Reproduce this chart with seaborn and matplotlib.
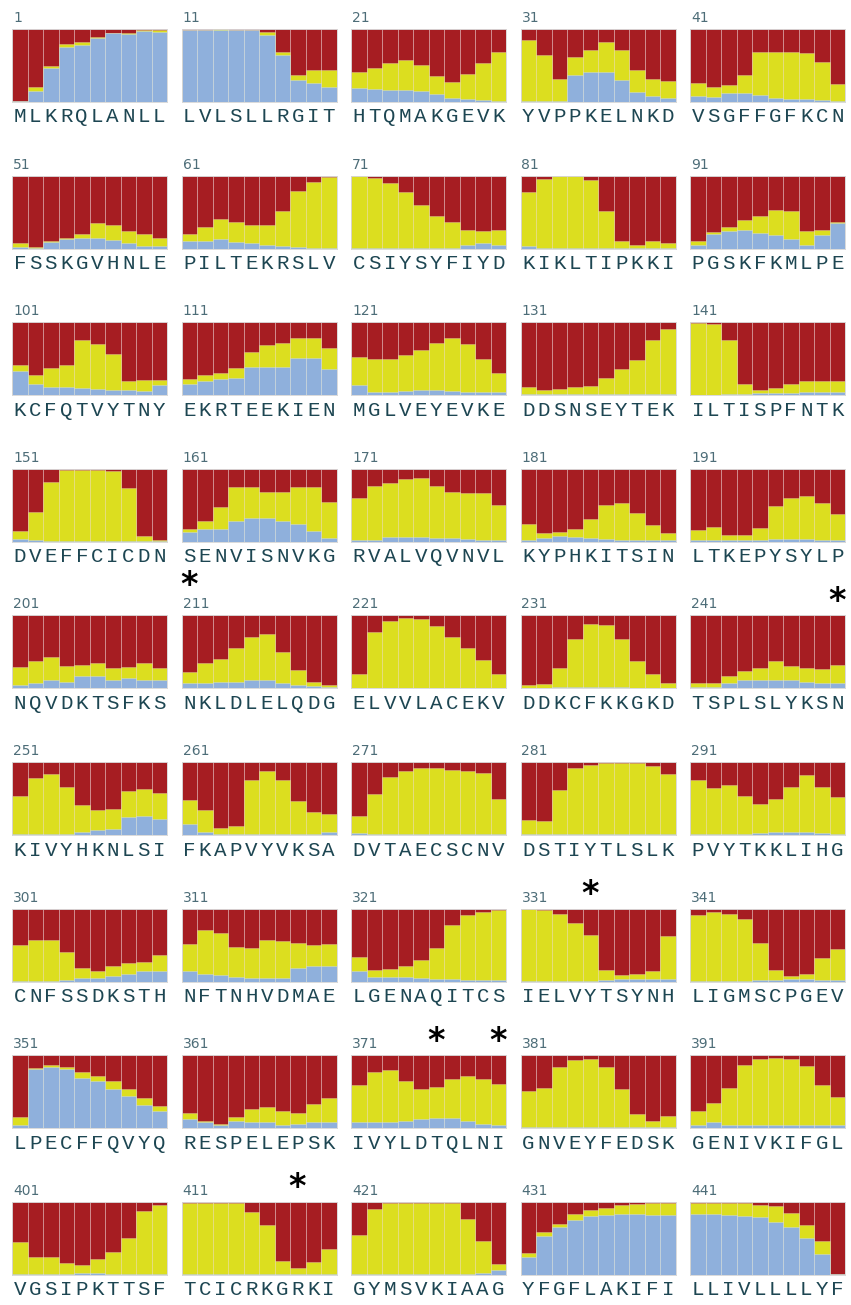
import numpy as np
import pandas as pd
import seaborn as sns
from matplotlib import pyplot as plt

# Sequence, one block of 10 per panel.
sequence = (
    "MLKRQLANLL" "LVLSLLRGIT" "HTQMAKGEVK" "YVPPKELNKD" "VSGFFGFKCN"
    "FSSKGVHNLE" "PILTEKRSLV" "CSIYSYFIYD" "KIKLTIPKKI" "PGSKFKMLPE"
    "KCFQTVYTNY" "EKRTEEKIEN" "MGLVEYEVKE" "DDSNSEYTEK" "ILTISPFNTK"
    "DVEFFCICDN" "SENVISNVKG" "RVALVQVNVL" "KYPHKITSIN" "LTKEPYSYLP"
    "NQVDKTSFKS" "NKLDLELQDG" "ELVVLACEKV" "DDKCFKKGKD" "TSPLSLYKSN"
    "KIVYHKNLSI" "FKAPVYVKSA" "DVTAECSCNV" "DSTIYTLSLK" "PVYTKKLIHG"
    "CNFSSDKSTH" "NFTNHVDMAE" "LGENAQITCS" "IELVYTSYNH" "LIGMSCPGEV"
    "LPECFFQVYQ" "RESPELEPSK" "IVYLDTQLNI" "GNVEYFEDSK" "GENIVKIFGL"
    "VGSIPKTTSF" "TCICRKGRKI" "GYMSVKIAAG" "YFGFLAKIFI" "LLIVLLLLYF"
)

# Height of the blue part of each bar.
blue = [
    0.02, 0.15, 0.46, 0.76, 0.78, 0.87, 0.94, 0.93, 0.97, 0.96,
    0.98, 0.98, 0.98, 0.98, 0.98, 0.92, 0.64, 0.30, 0.26, 0.20,
    0.19, 0.18, 0.17, 0.17, 0.15, 0.11, 0.05, 0.04, 0.03, 0.02,
    0.01, 0.01, 0.01, 0.37, 0.41, 0.41, 0.30, 0.14, 0.08, 0.06,
    0.08, 0.07, 0.12, 0.12, 0.09, 0.05, 0.04, 0.04, 0.03, 0.02,
    0.02, 0.01, 0.09, 0.13, 0.14, 0.15, 0.12, 0.07, 0.04, 0.04,
    0.10, 0.11, 0.13, 0.09, 0.07, 0.05, 0.04, 0.02, 0.01, 0.01,
    0.01, 0.01, 0.01, 0.01, 0.01, 0.01, 0.01, 0.05, 0.07, 0.05,
    0.04, 0.01, 0.01, 0.01, 0.01, 0.01, 0.01, 0.01, 0.01, 0.01,
    0.05, 0.20, 0.24, 0.26, 0.22, 0.18, 0.13, 0.05, 0.18, 0.35,
    0.33, 0.15, 0.11, 0.11, 0.10, 0.08, 0.07, 0.07, 0.06, 0.14,
    0.15, 0.20, 0.22, 0.24, 0.38, 0.39, 0.39, 0.51, 0.51, 0.36,
    0.14, 0.05, 0.05, 0.06, 0.07, 0.07, 0.06, 0.05, 0.04, 0.04,
    0.02, 0.02, 0.02, 0.02, 0.02, 0.02, 0.02, 0.02, 0.02, 0.02,
    0.00, 0.00, 0.01, 0.02, 0.03, 0.03, 0.03, 0.05, 0.05, 0.05,
    0.04, 0.02, 0.01, 0.01, 0.01, 0.01, 0.01, 0.01, 0.01, 0.01,
    0.14, 0.18, 0.18, 0.29, 0.32, 0.32, 0.29, 0.25, 0.15, 0.05,
    0.02, 0.02, 0.06, 0.06, 0.06, 0.05, 0.05, 0.04, 0.03, 0.03,
    0.02, 0.05, 0.08, 0.07, 0.05, 0.04, 0.03, 0.03, 0.02, 0.02,
    0.02, 0.02, 0.02, 0.02, 0.03, 0.04, 0.04, 0.04, 0.03, 0.02,
    0.05, 0.08, 0.11, 0.09, 0.17, 0.17, 0.12, 0.14, 0.12, 0.11,
    0.08, 0.08, 0.09, 0.09, 0.12, 0.11, 0.07, 0.05, 0.03, 0.02,
    0.01, 0.01, 0.01, 0.01, 0.01, 0.01, 0.01, 0.01, 0.01, 0.01,
    0.01, 0.01, 0.02, 0.02, 0.02, 0.02, 0.02, 0.01, 0.01, 0.01,
    0.02, 0.02, 0.08, 0.11, 0.12, 0.12, 0.11, 0.09, 0.08, 0.07,
    0.02, 0.02, 0.02, 0.02, 0.04, 0.07, 0.08, 0.25, 0.26, 0.22,
    0.15, 0.04, 0.01, 0.01, 0.01, 0.01, 0.01, 0.01, 0.02, 0.04,
    0.03, 0.01, 0.01, 0.01, 0.01, 0.01, 0.01, 0.01, 0.01, 0.01,
    0.01, 0.01, 0.01, 0.01, 0.01, 0.01, 0.01, 0.01, 0.01, 0.01,
    0.01, 0.01, 0.01, 0.02, 0.03, 0.04, 0.04, 0.04, 0.03, 0.02,
    0.01, 0.01, 0.01, 0.02, 0.05, 0.05, 0.08, 0.11, 0.14, 0.14,
    0.14, 0.11, 0.09, 0.06, 0.05, 0.05, 0.05, 0.19, 0.21, 0.21,
    0.14, 0.06, 0.06, 0.06, 0.05, 0.04, 0.03, 0.02, 0.02, 0.02,
    0.01, 0.01, 0.01, 0.01, 0.01, 0.02, 0.03, 0.03, 0.03, 0.03,
    0.01, 0.01, 0.01, 0.01, 0.02, 0.02, 0.03, 0.03, 0.02, 0.02,
    0.05, 0.81, 0.84, 0.81, 0.69, 0.64, 0.54, 0.44, 0.32, 0.23,
    0.12, 0.08, 0.05, 0.10, 0.09, 0.08, 0.05, 0.06, 0.08, 0.08,
    0.08, 0.08, 0.08, 0.10, 0.12, 0.14, 0.14, 0.10, 0.06, 0.05,
    0.01, 0.01, 0.01, 0.01, 0.01, 0.01, 0.01, 0.01, 0.01, 0.01,
    0.05, 0.08, 0.05, 0.05, 0.05, 0.05, 0.04, 0.04, 0.04, 0.04,
    0.01, 0.01, 0.01, 0.01, 0.02, 0.02, 0.01, 0.01, 0.01, 0.01,
    0.01, 0.01, 0.01, 0.01, 0.01, 0.01, 0.01, 0.01, 0.01, 0.01,
    0.01, 0.01, 0.01, 0.01, 0.01, 0.01, 0.01, 0.01, 0.03, 0.07,
    0.24, 0.53, 0.65, 0.75, 0.80, 0.82, 0.83, 0.83, 0.82, 0.82,
    0.83, 0.83, 0.82, 0.81, 0.79, 0.72, 0.66, 0.51, 0.28, 0.01,
]

# Height of blue + yellow (the rest up to 1 is red).
blue_yellow = [
    0.02, 0.20, 0.50, 0.80, 0.82, 0.89, 0.95, 0.94, 0.98, 0.98,
    0.99, 0.99, 1.00, 0.99, 0.99, 0.96, 0.68, 0.37, 0.44, 0.44,
    0.41, 0.46, 0.54, 0.58, 0.51, 0.35, 0.28, 0.39, 0.53, 0.69,
    0.85, 0.65, 0.32, 0.61, 0.71, 0.82, 0.71, 0.44, 0.32, 0.29,
    0.26, 0.20, 0.23, 0.37, 0.69, 0.69, 0.68, 0.67, 0.55, 0.24,
    0.07, 0.02, 0.10, 0.15, 0.20, 0.35, 0.33, 0.24, 0.20, 0.15,
    0.20, 0.29, 0.40, 0.36, 0.32, 0.32, 0.52, 0.79, 0.91, 0.98,
    0.99, 0.97, 0.90, 0.77, 0.60, 0.45, 0.36, 0.25, 0.24, 0.26,
    0.77, 0.96, 0.99, 0.99, 0.94, 0.51, 0.11, 0.05, 0.10, 0.08,
    0.10, 0.23, 0.30, 0.39, 0.45, 0.53, 0.52, 0.24, 0.26, 0.36,
    0.42, 0.28, 0.37, 0.42, 0.75, 0.70, 0.56, 0.20, 0.21, 0.21,
    0.22, 0.28, 0.31, 0.37, 0.59, 0.69, 0.71, 0.79, 0.79, 0.65,
    0.53, 0.49, 0.50, 0.55, 0.62, 0.71, 0.78, 0.70, 0.49, 0.31,
    0.11, 0.07, 0.08, 0.11, 0.13, 0.24, 0.36, 0.48, 0.75, 0.91,
    0.99, 0.98, 0.76, 0.15, 0.07, 0.10, 0.15, 0.19, 0.19, 0.20,
    0.15, 0.41, 0.82, 0.98, 0.99, 0.99, 0.97, 0.74, 0.08, 0.02,
    0.18, 0.28, 0.48, 0.75, 0.75, 0.68, 0.68, 0.75, 0.75, 0.54,
    0.60, 0.76, 0.80, 0.86, 0.87, 0.77, 0.68, 0.67, 0.67, 0.50,
    0.25, 0.12, 0.13, 0.17, 0.31, 0.50, 0.53, 0.39, 0.23, 0.12,
    0.16, 0.20, 0.10, 0.09, 0.19, 0.49, 0.60, 0.63, 0.53, 0.38,
    0.29, 0.38, 0.43, 0.31, 0.32, 0.35, 0.28, 0.30, 0.35, 0.28,
    0.22, 0.35, 0.40, 0.55, 0.71, 0.74, 0.50, 0.25, 0.09, 0.05,
    0.20, 0.77, 0.92, 0.97, 0.95, 0.85, 0.71, 0.55, 0.39, 0.20,
    0.05, 0.06, 0.28, 0.67, 0.88, 0.87, 0.68, 0.37, 0.20, 0.07,
    0.07, 0.08, 0.17, 0.24, 0.28, 0.37, 0.31, 0.28, 0.26, 0.32,
    0.54, 0.78, 0.83, 0.66, 0.41, 0.34, 0.36, 0.60, 0.63, 0.58,
    0.48, 0.34, 0.10, 0.12, 0.75, 0.87, 0.76, 0.46, 0.31, 0.29,
    0.26, 0.56, 0.80, 0.87, 0.92, 0.92, 0.89, 0.87, 0.85, 0.50,
    0.20, 0.19, 0.61, 0.92, 0.96, 0.99, 0.99, 0.98, 0.94, 0.83,
    0.75, 0.64, 0.69, 0.53, 0.42, 0.50, 0.66, 0.82, 0.66, 0.52,
    0.50, 0.57, 0.57, 0.40, 0.18, 0.14, 0.21, 0.26, 0.27, 0.36,
    0.51, 0.71, 0.66, 0.48, 0.46, 0.57, 0.55, 0.53, 0.50, 0.51,
    0.34, 0.16, 0.17, 0.21, 0.29, 0.46, 0.77, 0.91, 0.95, 0.98,
    0.99, 0.98, 0.92, 0.80, 0.64, 0.16, 0.09, 0.11, 0.14, 0.63,
    0.91, 0.95, 0.92, 0.86, 0.53, 0.16, 0.08, 0.10, 0.33, 0.45,
    0.16, 0.83, 0.86, 0.84, 0.77, 0.72, 0.64, 0.54, 0.41, 0.30,
    0.21, 0.10, 0.06, 0.16, 0.26, 0.29, 0.24, 0.21, 0.33, 0.42,
    0.59, 0.77, 0.80, 0.65, 0.54, 0.57, 0.67, 0.72, 0.67, 0.61,
    0.51, 0.55, 0.84, 0.94, 0.95, 0.84, 0.54, 0.20, 0.10, 0.17,
    0.23, 0.35, 0.55, 0.87, 0.95, 0.96, 0.95, 0.85, 0.59, 0.43,
    0.45, 0.24, 0.24, 0.16, 0.14, 0.21, 0.31, 0.50, 0.88, 0.96,
    0.99, 0.99, 0.99, 0.99, 0.86, 0.68, 0.19, 0.09, 0.17, 0.35,
    0.55, 0.90, 0.99, 0.99, 0.99, 0.99, 0.99, 0.76, 0.46, 0.15,
    0.30, 0.58, 0.70, 0.83, 0.89, 0.92, 0.95, 0.97, 0.98, 0.98,
    0.99, 0.99, 0.99, 0.98, 0.96, 0.94, 0.85, 0.68, 0.46, 0.01,
]

# Positions marked with an asterisk.
stars = [211, 250, 335, 376, 380, 418]

RED, YELLOW, BLUE = "#a61d22", "#dcde1f", "#8fb0dc"
LETTER_COLOR, NUMBER_COLOR = "#1d4652", "#4d6d78"

W, H = 851, 1305
left0, col_step, panel_w = 12, 169.5, 155
top0, row_step, panel_h = 29, 146.6, 73

sns.set_theme(style="white")
fig = plt.figure(figsize=(W / 100, H / 100), dpi=100)

df = pd.DataFrame({
    "pos": np.arange(1, len(sequence) + 1),
    "aa": list(sequence),
    "blue": blue,
    "blue_yellow": blue_yellow,
})
df["red"] = 1.0
df["panel"] = (df["pos"] - 1) // 10
df["slot"] = (df["pos"] - 1) % 10


def panel_origin(panel):
    row, col = divmod(panel, 5)
    return left0 + col * col_step, top0 + row * row_step


for panel, chunk in df.groupby("panel"):
    x0, y0 = panel_origin(panel)
    ax = fig.add_axes([x0 / W, 1 - (y0 + panel_h) / H, panel_w / W, panel_h / H])
    for col, color in [("red", RED), ("blue_yellow", YELLOW), ("blue", BLUE)]:
        sns.barplot(data=chunk, x="slot", y=col, color=color, saturation=1,
                    width=1, edgecolor=(1, 1, 1, 0.3), linewidth=0.6, ax=ax)
    ax.set_xlim(-0.5, 9.5)
    ax.set_ylim(0, 1)
    ax.set_xticks([])
    ax.set_yticks([])
    ax.set_xlabel("")
    ax.set_ylabel("")
    for s in ax.spines.values():
        s.set_color("#d5d5d5")
        s.set_linewidth(0.6)

    # Panel start number and residue letters.
    fig.text((x0 + 1) / W, 1 - (y0 - 11) / H, str(chunk["pos"].iloc[0]),
             fontsize=10, color=NUMBER_COLOR, ha="left", va="center")
    for slot, aa in zip(chunk["slot"], chunk["aa"]):
        cx = x0 + (slot + 0.5) * panel_w / 10
        fig.text(cx / W, 1 - (y0 + panel_h + 15) / H, aa, family="Liberation Mono",
                 fontsize=15, color=LETTER_COLOR, ha="center", va="center")

# Asterisks: mathtext keeps the box tight around the glyph.
for s in stars:
    panel, slot = divmod(s - 1, 10)
    x0, y0 = panel_origin(panel)
    cx = x0 + (slot + 0.5) * panel_w / 10
    cy = y0 - 16 if slot >= 3 else y0 - 32
    fig.text(cx / W, 1 - cy / H, r"$\mathbf{*}$", fontsize=24,
             color="black", ha="center", va="center")

plt.savefig("out.png", dpi=100)
